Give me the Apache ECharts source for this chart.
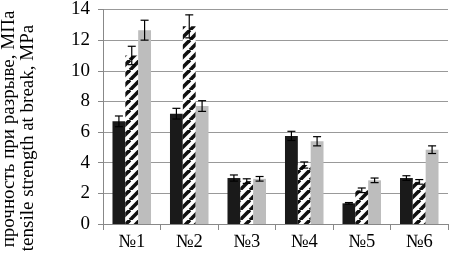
<!DOCTYPE html>
<html><head><meta charset="utf-8">
<script src="https://cdn.jsdelivr.net/npm/echarts@6/dist/echarts.min.js"></script>
<style>html,body{margin:0;padding:0;background:#fff}#c{width:450px;height:260px}</style>
</head><body><div id="c"></div>
<script>
var categories = ['№1','№2','№3','№4','№5','№6'];
var seriesBlack = [6.7, 7.2, 3.0, 5.75, 1.35, 3.0];
var errBlack = [0.35, 0.35, 0.2, 0.3, 0.05, 0.15];
var seriesHatch = [11.0, 12.9, 2.8, 3.85, 2.2, 2.75];
var errHatch = [0.6, 0.75, 0.15, 0.2, 0.15, 0.15];
var seriesGrey = [12.65, 7.7, 2.95, 5.4, 2.85, 4.85];
var errGrey = [0.65, 0.35, 0.15, 0.3, 0.15, 0.25];
var yTicks = [0, 2, 4, 6, 8, 10, 12, 14];
var titleLine1 = 'прочность при разрыве, МПа';
var titleLine2 = 'tensile strength at break, MPa';

var GAP = 0.33;
var serif = '"Liberation Serif", "DejaVu Serif", serif';

function hatchPattern() {
  var s = 10, cv = document.createElement('canvas');
  cv.width = s; cv.height = s;
  var ctx = cv.getContext('2d');
  ctx.fillStyle = '#fff'; ctx.fillRect(0, 0, s, s);
  ctx.strokeStyle = '#111'; ctx.lineWidth = 3.6;
  for (var k = -s; k <= s; k += s) {
    ctx.beginPath(); ctx.moveTo(k, s); ctx.lineTo(k + s, 0); ctx.stroke();
  }
  return cv;
}

function errData(vals, errs) {
  return vals.map(function (v, i) { return [i, v, errs[i]]; });
}
function errSeries(vals, errs, slot) {
  return {
    type: 'custom', z: 10,
    data: errData(vals, errs),
    encode: { x: 0, y: 1 },
    renderItem: function (params, api) {
      var i = api.value(0), v = api.value(1), e = api.value(2);
      var top = api.coord([i, v + e]);
      var bot = api.coord([i, v - e]);
      var band = api.size([1, 0])[0];
      var bw = band * (1 - GAP) / 3;
      var x = top[0] + (slot - 1) * bw;
      var hw = 4;
      var st = { stroke: '#000', lineWidth: 1.2 };
      return { type: 'group', children: [
        { type: 'line', shape: { x1: x, y1: top[1], x2: x, y2: bot[1] }, style: st },
        { type: 'line', shape: { x1: x - hw, y1: top[1], x2: x + hw, y2: top[1] }, style: st },
        { type: 'line', shape: { x1: x - hw, y1: bot[1], x2: x + hw, y2: bot[1] }, style: st }
      ]};
    }
  };
}

var chart = echarts.init(document.getElementById('c'), null, { renderer: 'canvas' });
chart.setOption({
  animation: false,
  backgroundColor: '#fff',
  grid: { left: 103, right: 2, top: 6, bottom: 36 },
  xAxis: {
    type: 'category', data: categories,
    axisLine: { lineStyle: { color: '#888', width: 1 } },
    axisTick: { show: true, length: 6, lineStyle: { color: '#888' } },
    axisLabel: { color: '#000', fontFamily: serif, fontSize: 18.5, margin: 9 }
  },
  yAxis: {
    type: 'value', min: yTicks[0], max: yTicks[yTicks.length - 1], interval: yTicks[1] - yTicks[0],
    axisLine: { show: true, lineStyle: { color: '#888' } },
    axisTick: { show: true, length: 5, lineStyle: { color: '#888' } },
    axisLabel: { color: '#000', fontFamily: serif, fontSize: 19, margin: 13 },
    splitLine: { lineStyle: { color: '#999', width: 1 } }
  },
  graphic: [{
    type: 'text', x: 9, y: 129, rotation: Math.PI / 2,
    style: {
      text: titleLine1, fontFamily: serif, fontSize: 19,
      fill: '#000', align: 'center', verticalAlign: 'middle'
    }
  }, {
    type: 'text', x: 28, y: 138, rotation: Math.PI / 2,
    style: {
      text: titleLine2, fontFamily: serif, fontSize: 19,
      fill: '#000', align: 'center', verticalAlign: 'middle'
    }
  }],
  series: [
    { type: 'bar', data: seriesBlack, barGap: '0%', barCategoryGap: (GAP * 100) + '%',
      itemStyle: { color: '#1a1a1a' } },
    { type: 'bar', data: seriesHatch, barGap: '0%', barCategoryGap: (GAP * 100) + '%',
      itemStyle: { color: { image: hatchPattern(), repeat: 'repeat' } } },
    { type: 'bar', data: seriesGrey, barGap: '0%', barCategoryGap: (GAP * 100) + '%',
      itemStyle: { color: '#bdbdbd' } },
    errSeries(seriesBlack, errBlack, 0),
    errSeries(seriesHatch, errHatch, 1),
    errSeries(seriesGrey, errGrey, 2)
  ]
});
</script></body></html>
